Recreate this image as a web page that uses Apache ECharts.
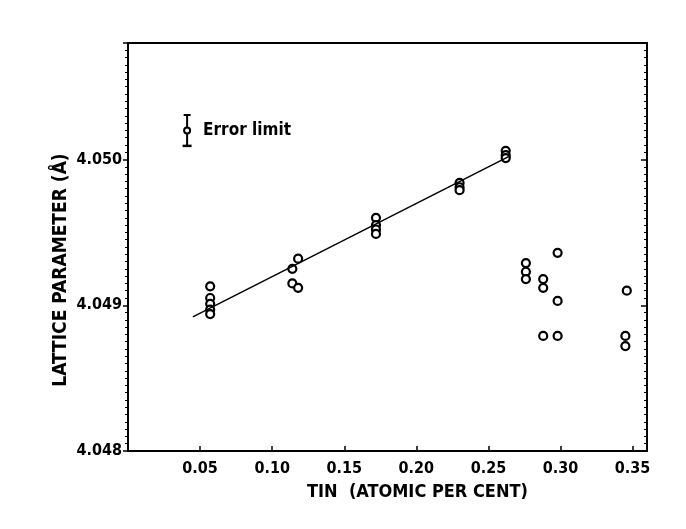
<!DOCTYPE html>
<html>
<head>
<meta charset="utf-8">
<script src="https://cdn.jsdelivr.net/npm/echarts@6/dist/echarts.min.js"></script>
<style>
html,body{margin:0;padding:0;background:#fff;}
#chart{width:686px;height:529px;}
</style>
</head>
<body>
<div id="chart"></div>
<script>
// ---- data ----
const xTickValues = [0.05, 0.10, 0.15, 0.20, 0.25, 0.30, 0.35];
const xTickLabels = ['0.05', '0.10', '0.15', '0.20', '0.25', '0.30', '0.35'];
const yTickValues = [4.048, 4.049, 4.050];
const yTickLabels = ['4.048', '4.049', '4.050'];

const tinX = [
  0.057, 0.057, 0.057, 0.057, 0.057,
  0.114, 0.114, 0.118, 0.118,
  0.172, 0.172, 0.172, 0.172,
  0.230, 0.230, 0.230,
  0.262, 0.262, 0.262,
  0.276, 0.276, 0.276,
  0.288, 0.288, 0.288,
  0.298, 0.298, 0.298,
  0.346, 0.345, 0.345
];
const latticeY = [
  4.04913, 4.04905, 4.04901, 4.04897, 4.04894,
  4.04925, 4.04915, 4.04932, 4.04912,
  4.04960, 4.04955, 4.04952, 4.04949,
  4.04984, 4.04981, 4.04979,
  4.05006, 4.05003, 4.05001,
  4.04929, 4.04923, 4.04918,
  4.04918, 4.04912, 4.04879,
  4.04936, 4.04903, 4.04879,
  4.04910, 4.04879, 4.04872
];

const fitX = [0.045, 0.264];
const fitY = [4.04892, 4.05002];

const errorX = [0.041];
const errorY = [4.05020];
const errorHalf = [0.000106];
const errorText = 'Error limit';

const xTitle = 'TIN  (ATOMIC PER CENT)';
const yTitle = 'LATTICE PARAMETER (Å)';

// ---- chart ----
const FONT = '"DejaVu Sans Condensed", "DejaVu Sans", sans-serif';
function labelFor(values, labels, v) {
  for (let i = 0; i < values.length; i++) {
    if (Math.abs(values[i] - v) < 1e-7) return labels[i];
  }
  return '';
}

const chart = echarts.init(document.getElementById('chart'), null, {renderer: 'canvas'});
const lineStyle = {color: '#000', width: 2};

const option = {
  backgroundColor: '#fff',
  animation: false,
  grid: {left: 128, right: 39, top: 43, bottom: 78, containLabel: false},
  xAxis: [
    {
      type: 'value', min: 0, max: 0.36, interval: 0.05, position: 'bottom',
      axisLine: {show: true, onZero: false, lineStyle: lineStyle},
      axisTick: {show: true, inside: true, length: 5, lineStyle: {color: '#000', width: 1.5}},
      axisLabel: {
        show: true, margin: 10, color: '#000', fontSize: 16, fontWeight: 'bold', fontFamily: FONT,
        showMaxLabel: false,
        formatter: v => labelFor(xTickValues, xTickLabels, v)
      },
      splitLine: {show: false}
    },
    {
      type: 'value', min: 0, max: 0.36, interval: 0.05, position: 'top',
      axisLine: {show: true, onZero: false, lineStyle: lineStyle},
      axisTick: {show: false}, axisLabel: {show: false}, splitLine: {show: false}
    }
  ],
  yAxis: [
    {
      type: 'value', min: 4.048, max: 4.0508, interval: 0.001, position: 'left',
      axisLine: {show: true, onZero: false, lineStyle: lineStyle},
      axisTick: {show: true, inside: false, length: 5, lineStyle: {color: '#000', width: 1.5}},
      minorTick: {show: true, splitNumber: 20, length: 3, lineStyle: {color: '#000', width: 1}},
      axisLabel: {
        show: true, margin: 6, color: '#000', fontSize: 16, fontWeight: 'bold', fontFamily: FONT,
        showMaxLabel: false,
        formatter: v => labelFor(yTickValues, yTickLabels, v)
      },
      splitLine: {show: false}
    },
    {
      type: 'value', min: 4.048, max: 4.0508, interval: 0.001, position: 'left', offset: 0,
      axisLine: {show: false},
      axisTick: {show: false},
      minorTick: {show: true, splitNumber: 20, length: 3, lineStyle: {color: '#000', width: 1}},
      axisLabel: {show: false, inside: true}, splitLine: {show: false}
    },
    {
      type: 'value', min: 4.048, max: 4.0508, interval: 0.001, position: 'right',
      axisLine: {show: true, onZero: false, lineStyle: lineStyle},
      axisTick: {show: true, inside: true, length: 6, lineStyle: {color: '#000', width: 1.5}},
      minorTick: {show: true, splitNumber: 20, length: 3, lineStyle: {color: '#000', width: 1}},
      axisLabel: {show: false}, splitLine: {show: false}
    }
  ],
  series: [
    {
      type: 'line', xAxisIndex: 0, yAxisIndex: 0,
      data: fitX.map((x, i) => [x, fitY[i]]),
      showSymbol: false, symbol: 'none',
      lineStyle: {color: '#000', width: 1.5}
    },
    {
      type: 'scatter', xAxisIndex: 0, yAxisIndex: 0,
      data: tinX.map((x, i) => [x, latticeY[i]]),
      symbol: 'circle', symbolSize: 8,
      itemStyle: {color: '#fff', borderColor: '#000', borderWidth: 2.2, opacity: 1}
    },
    {
      type: 'custom', xAxisIndex: 0, yAxisIndex: 0,
      data: errorX.map((x, i) => [x, errorY[i], errorHalf[i]]),
      renderItem: function (params, api) {
        const c = api.coord([api.value(0), api.value(1)]);
        const t = api.coord([api.value(0), api.value(1) + api.value(2)]);
        const b = api.coord([api.value(0), api.value(1) - api.value(2)]);
        const st = {stroke: '#000', lineWidth: 2};
        return {
          type: 'group',
          children: [
            {type: 'line', shape: {x1: c[0], y1: t[1], x2: c[0], y2: b[1]}, style: st},
            {type: 'line', shape: {x1: c[0] - 3.5, y1: t[1], x2: c[0] + 3.5, y2: t[1]}, style: st},
            {type: 'line', shape: {x1: c[0] - 4.5, y1: b[1], x2: c[0] + 4.5, y2: b[1]}, style: {stroke: '#000', lineWidth: 2.5}},
            {type: 'circle', shape: {cx: c[0], cy: c[1], r: 3}, style: {fill: '#fff', stroke: '#000', lineWidth: 2}},
            {type: 'text', style: {
              text: errorText, x: c[0] + 16, y: c[1], verticalAlign: 'middle', align: 'left',
              fill: '#000', font: 'bold 17px ' + FONT
            }}
          ]
        };
      }
    }
  ],
  graphic: [
    {
      type: 'text', left: 307, top: 483,
      style: {text: xTitle, fill: '#000', font: 'bold 18px ' + FONT}
    },
    {
      type: 'text', x: 61, y: 270, rotation: Math.PI / 2,
      style: {text: yTitle, fill: '#000', font: 'bold 19px ' + FONT, align: 'center', verticalAlign: 'middle'}
    }
  ]
};
chart.setOption(option);
</script>
</body>
</html>
